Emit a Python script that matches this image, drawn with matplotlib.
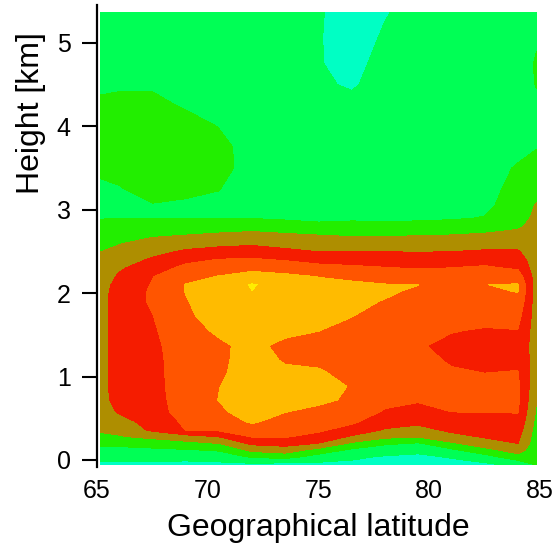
import numpy as np
import matplotlib
matplotlib.use('Agg')
import matplotlib.pyplot as plt

# ------------------------------------------------------------------------------
# Data: vertical profiles (band index) at each latitude
# ------------------------------------------------------------------------------

HEIGHTS = [-0.05, 0.04, 0.12, 0.20, 0.28, 0.36, 0.46, 0.58, 0.72, 0.88,
           1.05, 1.2, 1.37, 1.55, 1.72, 1.9, 2.02, 2.1, 2.2, 2.3,
           2.4, 2.5, 2.6, 2.7, 2.8, 2.9, 3.05, 3.25, 3.5, 3.75,
           4.0, 4.25, 4.5, 4.75, 5.05, 5.37]

LATITUDES = [65.15, 66.0, 67.5, 69.0, 70.5, 72.0, 73.5, 75.0,
             76.5, 78.0, 79.5, 81.0, 82.5, 84.0, 84.85]

lat_65_15 = [0.8, 1.32, 1.74, 2.21, 2.79, 3.13, 3.39, 3.54, 3.6, 3.6,
             3.6, 3.6, 3.6, 3.6, 3.6, 3.6, 3.6, 3.6, 3.5, 3.4,
             3.19, 2.98, 2.73, 2.49, 2.24, 1.97, 1.8, 1.85, 2.15, 2.3,
             2.35, 2.15, 1.85, 1.6, 1.6, 1.6]
lat_66_0 = [0.8, 1.32, 1.74, 2.25, 2.92, 3.28, 3.68, 4.1, 4.43, 4.5,
            4.5, 4.5, 4.5, 4.5, 4.5, 4.5, 4.46, 4.31, 4.12, 3.88,
            3.56, 3.25, 2.94, 2.63, 2.31, 1.97, 1.8, 1.95, 2.25, 2.4,
            2.4, 2.2, 1.9, 1.6, 1.6, 1.6]
lat_67_5 = [0.8, 1.35, 1.82, 2.45, 3.25, 4.17, 4.34, 4.61, 4.67, 4.71,
            4.72, 4.73, 4.75, 4.86, 4.97, 5.11, 5.11, 5.06, 4.96, 4.54,
            4.12, 3.71, 3.29, 2.87, 2.43, 1.97, 1.95, 2.3, 2.45, 2.45,
            2.4, 2.2, 1.9, 1.6, 1.6, 1.6]
lat_69_0 = [0.7, 1.4, 1.93, 2.7, 3.63, 5.02, 5.18, 5.37, 5.42, 5.45,
            5.47, 5.5, 5.6, 5.72, 5.83, 5.94, 6.03, 6.04, 5.7, 5.26,
            4.75, 4.13, 3.56, 2.98, 2.5, 1.97, 1.88, 2.17, 2.45, 2.45,
            2.3, 1.92, 1.6, 1.55, 1.55, 1.55]
lat_70_5 = [0.8, 1.46, 2.11, 3.02, 4.02, 5.17, 5.58, 5.86, 6.02, 5.98,
            5.84, 5.83, 5.88, 6.11, 6.38, 6.54, 6.59, 6.4, 6.04, 5.55,
            5.05, 4.36, 3.71, 3.12, 2.56, 1.97, 1.85, 2.02, 2.2, 2.18,
            1.98, 1.7, 1.6, 1.55, 1.55, 1.55]
lat_72_0 = [0.85, 2.14, 3.25, 4.22, 5.07, 5.64, 6.11, 6.37, 6.43, 6.47,
            6.46, 6.34, 6.2, 6.36, 6.52, 6.7, 6.98, 7.08, 6.4, 5.75,
            5.12, 4.47, 3.82, 3.24, 2.62, 1.97, 1.7, 1.65, 1.75, 1.75,
            1.6, 1.5, 1.5, 1.5, 1.5, 1.5]
lat_73_5 = [0.7, 2.43, 3.5, 4.4, 5.07, 5.33, 5.67, 6.03, 6.2, 6.26,
            6.15, 5.92, 5.8, 6.2, 6.38, 6.51, 6.58, 6.56, 6.2, 5.6,
            4.93, 4.21, 3.63, 3.1, 2.5, 1.85, 1.55, 1.55, 1.55, 1.55,
            1.55, 1.55, 1.55, 1.55, 1.55, 1.55]
lat_75_0 = [0.8, 1.6, 2.67, 3.98, 4.73, 5.14, 5.43, 5.77, 6.2, 6.3,
            6.1, 5.81, 5.75, 6.01, 6.17, 6.31, 6.34, 6.2, 5.98, 5.33,
            4.67, 3.98, 3.5, 2.98, 2.28, 1.75, 1.55, 1.55, 1.55, 1.55,
            1.55, 1.5, 1.2, 1.1, 1.1, 1.15]
lat_76_5 = [0.8, 1.17, 1.83, 2.86, 3.88, 4.64, 5.18, 5.54, 5.85, 5.95,
            5.71, 5.58, 5.58, 5.8, 6.01, 6.13, 6.2, 6.11, 5.87, 5.2,
            4.59, 3.99, 3.44, 2.88, 2.29, 1.85, 1.55, 1.5, 1.5, 1.5,
            1.5, 1.4, 0.85, 0.5, 0.3, 0.3]
lat_78_0 = [0.6, 0.93, 1.46, 2.17, 3.25, 3.92, 4.39, 4.91, 5.27, 5.45,
            5.43, 5.42, 5.4, 5.56, 5.73, 5.97, 6.09, 6.04, 5.65, 5.06,
            4.53, 3.99, 3.44, 2.89, 2.33, 1.8, 1.55, 1.55, 1.55, 1.55,
            1.55, 1.55, 1.55, 1.55, 1.2, 0.9]
lat_79_5 = [0.5, 0.82, 1.25, 1.92, 3.08, 3.69, 4.23, 4.69, 5.09, 5.32,
            5.31, 5.23, 5.08, 5.3, 5.48, 5.7, 5.9, 6.01, 5.58, 4.95,
            4.45, 3.95, 3.45, 2.94, 2.39, 1.8, 1.55, 1.55, 1.55, 1.55,
            1.55, 1.55, 1.55, 1.55, 1.5, 1.5]
lat_81_0 = [0.7, 1.09, 1.82, 2.86, 3.7, 4.19, 4.56, 5.01, 5.22, 5.27,
            5.08, 4.91, 4.8, 5.04, 5.26, 5.4, 5.48, 5.42, 5.21, 5.02,
            4.58, 3.99, 3.5, 2.99, 2.44, 1.9, 1.55, 1.55, 1.55, 1.55,
            1.55, 1.55, 1.55, 1.55, 1.55, 1.55]
lat_82_5 = [0.85, 1.63, 2.71, 3.55, 4.1, 4.37, 4.7, 5.04, 5.2, 5.2,
            4.99, 4.78, 4.66, 4.93, 5.24, 5.6, 5.84, 5.99, 5.7, 5.16,
            4.63, 4.1, 3.6, 3.1, 2.58, 2.05, 1.75, 1.55, 1.55, 1.55,
            1.55, 1.55, 1.55, 1.55, 1.55, 1.55]
lat_84_0 = [1.3, 2.67, 3.43, 4.01, 4.24, 4.47, 4.76, 5.04, 5.19, 5.18,
            5.03, 4.85, 4.74, 4.97, 5.33, 5.75, 6.03, 6.07, 5.54, 4.88,
            4.48, 4.08, 3.65, 3.22, 2.88, 2.65, 2.57, 2.42, 2.1, 1.7,
            1.55, 1.55, 1.55, 1.55, 1.55, 1.55]
lat_84_85 = [2.2, 2.25, 2.33, 2.4, 2.47, 2.57, 2.7, 2.85, 3.03, 3.24,
             3.4, 3.45, 3.45, 3.45, 3.45, 3.45, 3.5, 3.49, 3.47, 3.44,
             3.42, 3.39, 3.37, 3.33, 3.3, 3.2, 3.06, 2.78, 2.37, 1.96,
             1.7, 1.8, 2.05, 2.1, 1.9, 1.8]

LEVELS = [0, 1, 2, 3, 4, 5, 6, 7, 8]
BAND_COLOURS = ['#00FFC4', '#00FF55', '#22EE00', '#AE8E00',
                '#F51C00', '#FF5500', '#FFBB00', '#FFEE00']

X_TICKS = [65, 70, 75, 80, 85]
Y_TICKS = [0, 1, 2, 3, 4, 5]


def main():
    plt.rcParams['font.family'] = ['Liberation Sans', 'DejaVu Sans']

    fig = plt.figure(figsize=(5.57, 5.45), dpi=100)
    ax = fig.add_axes([97 / 557, 1 - 467 / 545, 443 / 557, 462 / 545])

    profiles = [lat_65_15, lat_66_0, lat_67_5, lat_69_0, lat_70_5, lat_72_0,
                lat_73_5, lat_75_0, lat_76_5, lat_78_0, lat_79_5, lat_81_0,
                lat_82_5, lat_84_0, lat_84_85]
    z = np.column_stack(profiles)

    ax.contourf(LATITUDES, HEIGHTS, z, levels=LEVELS, colors=BAND_COLOURS)

    ax.set_xlim(65, 85)
    ax.set_ylim(-0.084, 5.455)
    ax.set_xticks(X_TICKS)
    ax.set_yticks(Y_TICKS)

    for side in ['top', 'right', 'bottom']:
        ax.spines[side].set_visible(False)
    ax.spines['left'].set_linewidth(1.6)

    ax.tick_params(axis='y', length=11, width=1.5, pad=8, labelsize=18)
    ax.tick_params(axis='x', length=0, pad=9, labelsize=18)

    ax.set_xlabel('Geographical latitude', fontsize=23, labelpad=7)
    ax.set_ylabel('Height [km]', fontsize=23)
    ax.yaxis.set_label_coords(-0.115, 0.766)

    fig.savefig('out.png', dpi=100)


# ------------------------------------------------------------------------------
if __name__ == '__main__':
    main()
